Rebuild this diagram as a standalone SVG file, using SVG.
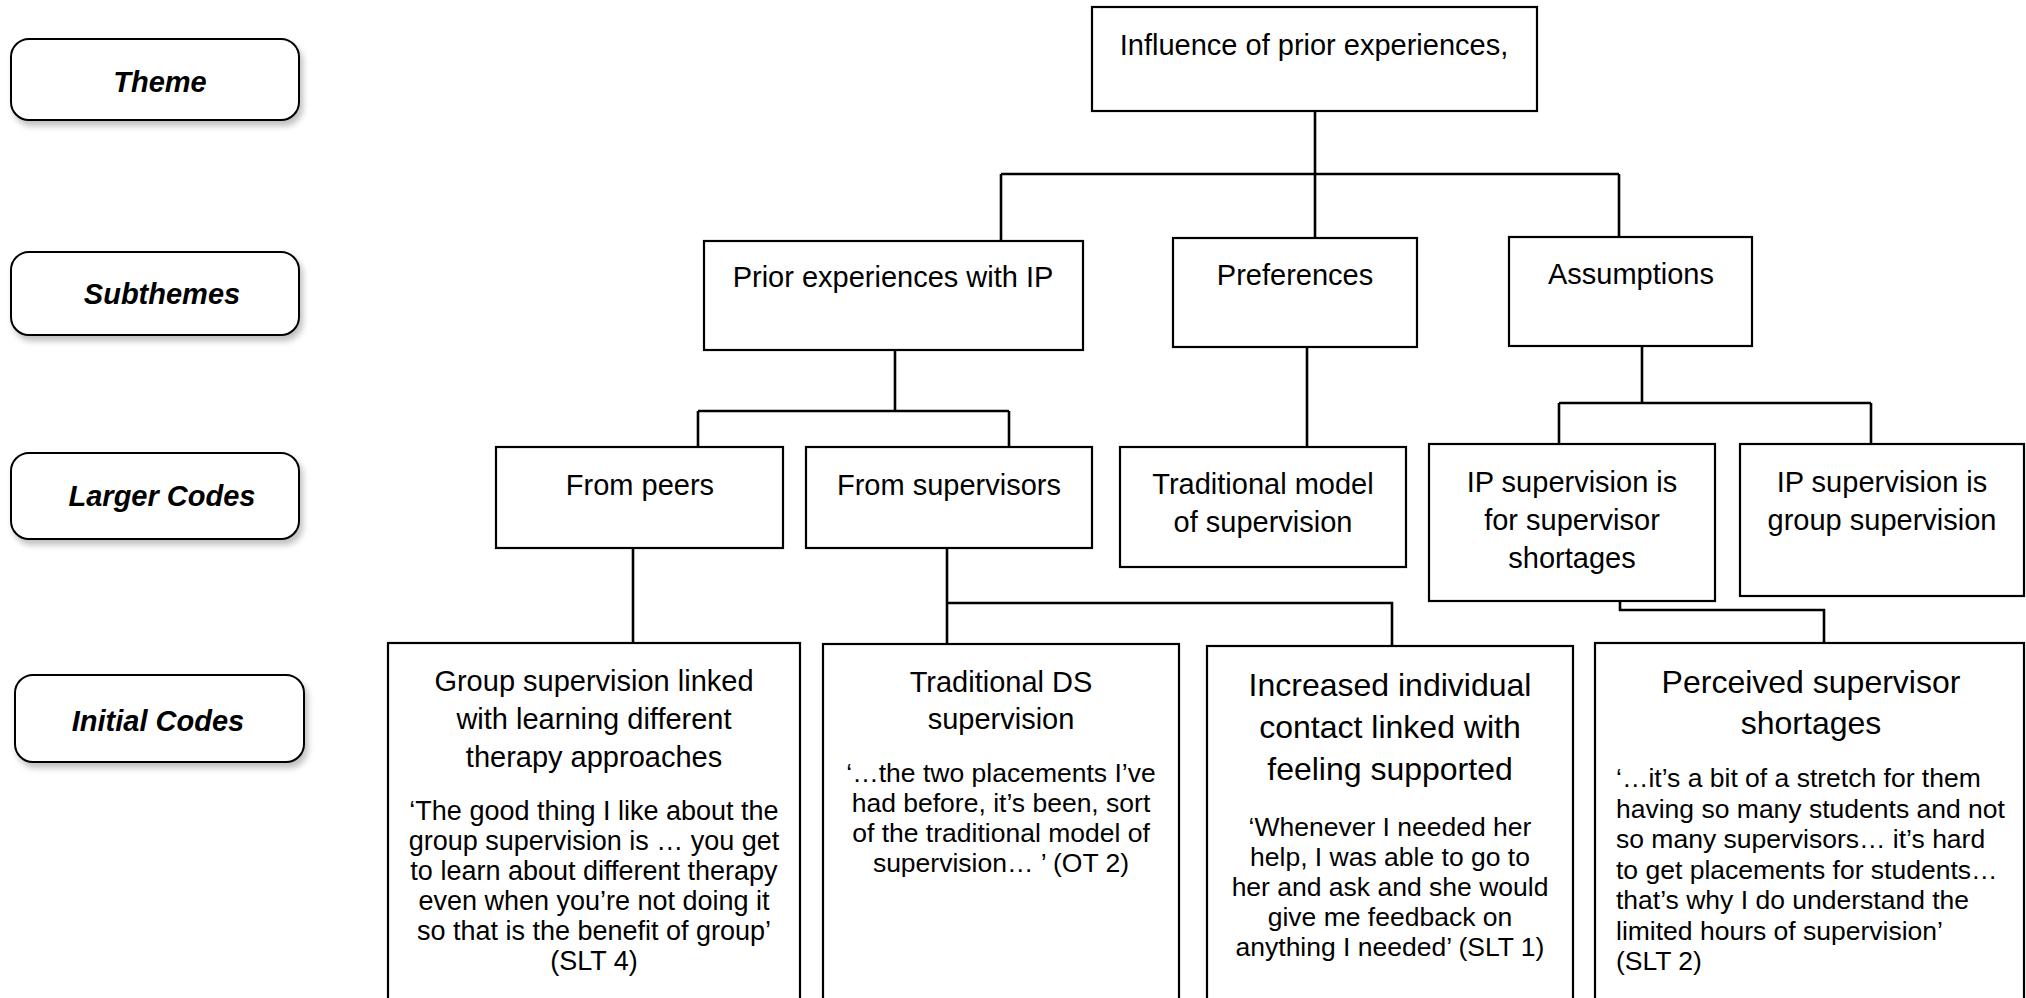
<svg xmlns="http://www.w3.org/2000/svg" width="2026" height="998" viewBox="0 0 2026 998">
<defs>
<filter id="sh" x="-10%" y="-20%" width="125%" height="150%">
<feGaussianBlur in="SourceAlpha" stdDeviation="3"/>
<feOffset dx="3" dy="5" result="b"/>
<feComponentTransfer><feFuncA type="linear" slope="0.25"/></feComponentTransfer>
<feMerge><feMergeNode/><feMergeNode in="SourceGraphic"/></feMerge>
</filter>
<style>
.lbl{fill:#fff;stroke:#000;stroke-width:2;}
.box{fill:#fff;stroke:#000;stroke-width:2.2;}
.lt{font-family:"Liberation Sans",Arial,sans-serif;font-size:29px;font-weight:bold;font-style:italic;fill:#000;text-anchor:middle;}
.t{font-family:"Liberation Sans",Arial,sans-serif;font-size:29px;fill:#000;text-anchor:middle;}
.tb{font-family:"Liberation Sans",Arial,sans-serif;font-size:32px;fill:#000;text-anchor:middle;}
.q{font-family:"Liberation Sans",Arial,sans-serif;font-size:26.5px;fill:#000;text-anchor:middle;}
.qg{font-family:"Liberation Sans",Arial,sans-serif;font-size:27px;fill:#000;text-anchor:middle;}
.ql{font-family:"Liberation Sans",Arial,sans-serif;font-size:26.5px;fill:#000;text-anchor:start;}
.c{fill:none;stroke:#000;stroke-width:2.6;}
</style>
</defs>
<rect width="2026" height="998" fill="#fff"/>

<g id="label-theme"><rect class="lbl" filter="url(#sh)" x="11" y="39" width="288" height="81" rx="18"/><text class="lt" x="160" y="92">Theme</text></g>
<g id="label-subthemes"><rect class="lbl" filter="url(#sh)" x="11" y="252" width="288" height="83" rx="18"/><text class="lt" x="162" y="304">Subthemes</text></g>
<g id="label-larger"><rect class="lbl" filter="url(#sh)" x="11" y="453" width="288" height="86" rx="18"/><text class="lt" x="162" y="506">Larger Codes</text></g>
<g id="label-initial"><rect class="lbl" filter="url(#sh)" x="15" y="675" width="289" height="87" rx="18"/><text class="lt" x="158" y="731">Initial Codes</text></g>

<g id="connectors">
<path class="c" d="M1315 111V174M1001 174H1619M1001 174V241M1315 174V238M1619 174V237"/>
<path class="c" d="M895 350V411M698 411H1009M698 411V449M1009 411V449"/>
<path class="c" d="M1307 347V449"/>
<path class="c" d="M1642 346V403M1559 403H1871M1559 403V446M1871 403V446"/>
<path class="c" d="M633 548V647"/>
<path class="c" d="M947 548V647M947 603H1392V647"/>
<path class="c" d="M1620 601V610H1824V651"/>
</g>

<g id="theme-node"><rect class="box" x="1092" y="7" width="445" height="104"/><text class="t" x="1314" y="55">Influence of prior experiences,</text></g>

<g id="sub-prior"><rect class="box" x="704" y="241" width="379" height="109"/><text class="t" x="893" y="287">Prior experiences with IP</text></g>
<g id="sub-pref"><rect class="box" x="1173" y="238" width="244" height="109"/><text class="t" x="1295" y="285">Preferences</text></g>
<g id="sub-assump"><rect class="box" x="1509" y="237" width="243" height="109"/><text class="t" x="1631" y="284">Assumptions</text></g>

<g id="lc-peers"><rect class="box" x="496" y="447" width="287" height="101"/><text class="t" x="640" y="495">From peers</text></g>
<g id="lc-supervisors"><rect class="box" x="806" y="447" width="286" height="101"/><text class="t" x="949" y="495">From supervisors</text></g>
<g id="lc-traditional"><rect class="box" x="1120" y="447" width="286" height="120"/><text class="t" x="1263" y="494">Traditional model</text><text class="t" x="1263" y="532">of supervision</text></g>
<g id="lc-shortages"><rect class="box" x="1429" y="444" width="286" height="157"/><text class="t" x="1572" y="492">IP supervision is</text><text class="t" x="1572" y="530">for supervisor</text><text class="t" x="1572" y="568">shortages</text></g>
<g id="lc-group"><rect class="box" x="1740" y="444" width="284" height="152"/><text class="t" x="1882" y="492">IP supervision is</text><text class="t" x="1882" y="530">group supervision</text></g>

<g id="ic-group"><rect class="box" x="388" y="643" width="412" height="380"/>
<text class="t" x="594" y="691">Group supervision linked</text><text class="t" x="594" y="729">with learning different</text><text class="t" x="594" y="767">therapy approaches</text>
<text class="qg" x="594" y="820">‘The good thing I like about the</text><text class="qg" x="594" y="850">group supervision is … you get</text><text class="qg" x="594" y="880">to learn about different therapy</text><text class="qg" x="594" y="910">even when you’re not doing it</text><text class="qg" x="594" y="940">so that is the benefit of group’</text><text class="qg" x="594" y="970">(SLT 4)</text></g>

<g id="ic-traditional"><rect class="box" x="823" y="644" width="356" height="380"/>
<text class="t" x="1001" y="692">Traditional DS</text><text class="t" x="1001" y="729">supervision</text>
<text class="q" x="1001" y="782">‘…the two placements I’ve</text><text class="q" x="1001" y="812">had before, it’s been, sort</text><text class="q" x="1001" y="842">of the traditional model of</text><text class="q" x="1001" y="872">supervision… ’ (OT 2)</text></g>

<g id="ic-increased"><rect class="box" x="1207" y="646" width="366" height="380"/>
<text class="tb" x="1390" y="696">Increased individual</text><text class="tb" x="1390" y="738">contact linked with</text><text class="tb" x="1390" y="780">feeling supported</text>
<text class="q" x="1390" y="836">‘Whenever I needed her</text><text class="q" x="1390" y="866">help, I was able to go to</text><text class="q" x="1390" y="896">her and ask and she would</text><text class="q" x="1390" y="926">give me feedback on</text><text class="q" x="1390" y="956">anything I needed’ (SLT 1)</text></g>

<g id="ic-perceived"><rect class="box" x="1595" y="643" width="429" height="380"/>
<text class="tb" x="1811" y="693">Perceived supervisor</text><text class="tb" x="1811" y="734">shortages</text>
<text class="ql" x="1616" y="787">‘…it’s a bit of a stretch for them</text><text class="ql" x="1616" y="817.5">having so many students and not</text><text class="ql" x="1616" y="848">so many supervisors… it’s hard</text><text class="ql" x="1616" y="878.5">to get placements for students…</text><text class="ql" x="1616" y="909">that’s why I do understand the</text><text class="ql" x="1616" y="939.5">limited hours of supervision’</text><text class="ql" x="1616" y="970">(SLT 2)</text></g>
</svg>
